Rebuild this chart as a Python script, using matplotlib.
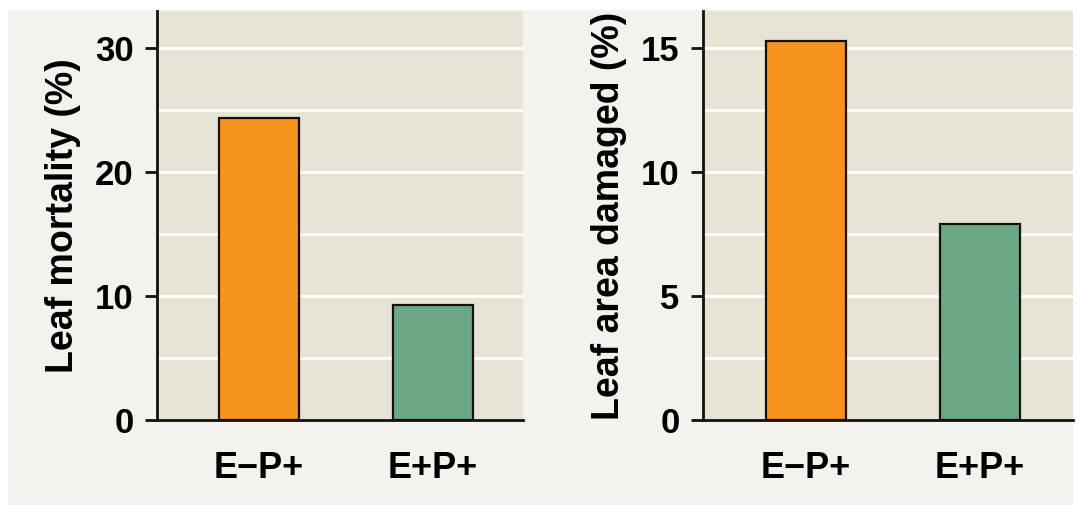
import matplotlib
matplotlib.use('Agg')
import matplotlib.pyplot as plt
from matplotlib.patches import Rectangle
from matplotlib.ticker import MultipleLocator

plt.rcParams['font.family'] = ['Liberation Sans', 'DejaVu Sans']
plt.rcParams['font.weight'] = 'bold'

# Data
groups = ['E\u2212P+', 'E+P+']
mortality = [24.4, 9.3]
area_damaged = [15.3, 7.9]
bar_colors = ['#f7941e', '#6aa984']

panel_bg = '#f3f2ec'
axes_bg = '#e7e4d6'

fig = plt.figure(figsize=(10.77, 5.08), dpi=100, facecolor='white')
fig.patches.append(Rectangle((8 / 1077, 3 / 508), 1065 / 1077, 495 / 508,
                             transform=fig.transFigure, facecolor=panel_bg,
                             edgecolor='none', zorder=-10))

ax1 = fig.add_axes([157 / 1077, 88 / 508, 366 / 1077, 409 / 508])
ax2 = fig.add_axes([703 / 1077, 88 / 508, 370 / 1077, 409 / 508])


def style(ax, values, ylim, major, minor, ylabel, xlim):
    ax.set_facecolor(axes_bg)
    x = range(len(groups))
    ax.bar(x, values, width=0.46, color=bar_colors, edgecolor='#111111',
           linewidth=1.6, zorder=3)
    ax.set_xlim(*xlim)
    ax.set_ylim(0, ylim)
    ax.yaxis.set_major_locator(MultipleLocator(major))
    ax.yaxis.set_minor_locator(MultipleLocator(minor))
    ax.grid(axis='y', which='both', color='white', linewidth=2, zorder=1)
    ax.set_axisbelow(True)
    for s in ['top', 'right']:
        ax.spines[s].set_visible(False)
    for s in ['left', 'bottom']:
        ax.spines[s].set_linewidth(2)
        ax.spines[s].set_color('#111111')
    ax.set_xticks(list(x))
    ax.set_xticklabels(groups, fontsize=26, fontweight='bold')
    ax.tick_params(axis='x', length=0, pad=22)
    ax.tick_params(axis='y', which='major', direction='out', length=9,
                   width=2, color='#111111', labelsize=25, pad=8)
    ax.tick_params(axis='y', which='minor', length=0)
    for t in ax.get_yticklabels():
        t.set_fontweight('bold')
    ax.set_ylabel(ylabel, fontsize=27, fontweight='bold', labelpad=10)


style(ax1, mortality, 33.0, 10, 5, 'Leaf mortality (%)', (-0.586, 1.517))
style(ax2, area_damaged, 16.5, 5, 2.5, 'Leaf area damaged (%)', (-0.592, 1.534))

fig.savefig('out.png', dpi=100, facecolor=fig.get_facecolor())
